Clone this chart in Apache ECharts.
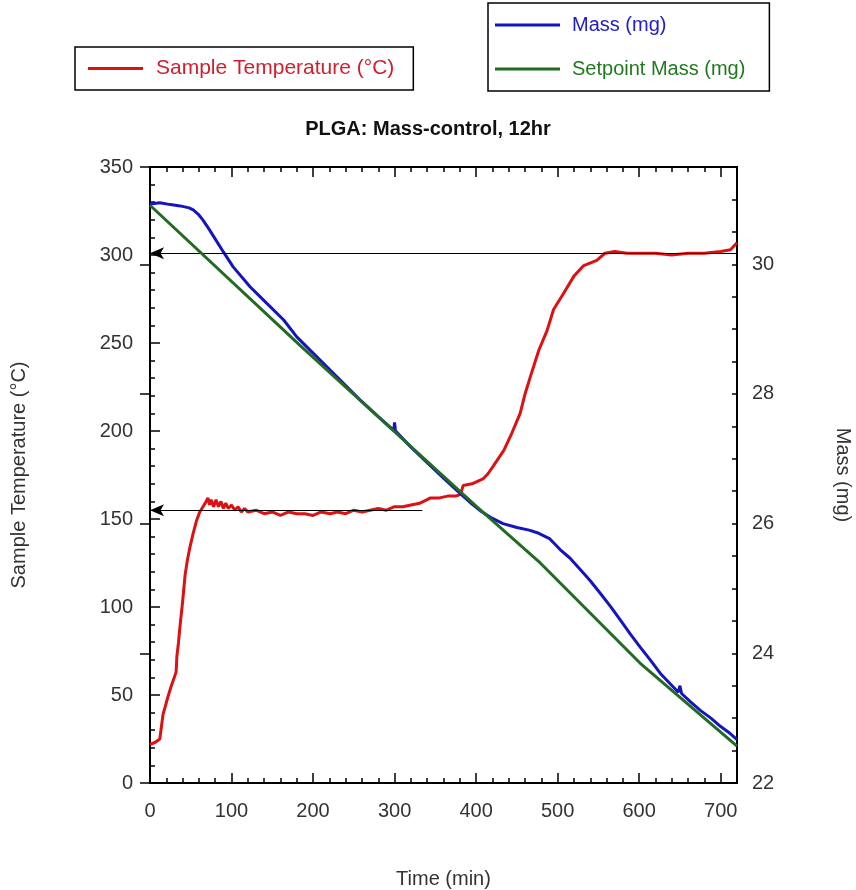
<!DOCTYPE html>
<html>
<head>
<meta charset="utf-8">
<script src="https://cdn.jsdelivr.net/npm/echarts@6/dist/echarts.min.js"></script>
<style>
html,body{margin:0;padding:0;background:#fff;overflow:hidden;}
#chart{width:856px;height:890px;}
</style>
</head>
<body>
<div id="chart"></div>
<script>
// ---- data ----
const titleText = 'PLGA: Mass-control, 12hr';
const xName = 'Time (min)';
const yLeftName = 'Sample Temperature (°C)';
const yRightName = 'Mass (mg)';
const seriesNames = ['Sample Temperature (°C)', 'Mass (mg)', 'Setpoint Mass (mg)'];

// Sample temperature [time (min), °C]
const temperature = [
  [0,22],[6,23],[12,25],[14,26],[16,39],[19,44],[22,49],[26,55],[29,59],[32,63],
  [33,72],[35,80],[37,90],[40,103],[43,118],[46,127],[49,134],[53,142],[57,149],
  [61,154],[65,157],[69,160],[71,162],[73,158],[75,161],[78,157],[81,161],[84,157],
  [87,160],[90,156],[93,159],[96,156],[100,158],[104,155],[108,157],[112,154],
  [116,156],[120,154],[130,155],[140,153],[150,154],[160,152],[170,154],[180,153],
  [190,153],[200,152],[210,154],[221,153],[230,154],[240,153],[250,155],[260,154],
  [270,155],[280,156],[290,155],[300,157],[310,157],[320,158],[331,159],[340,161],
  [344,162],[355,162],[365,163],[375,163],[381,164],[384,169],[395,170],[409,173],
  [415,176],[421,180],[434,189],[444,199],[454,210],[460,221],[468,233],[477,246],
  [487,257],[495,269],[507,278],[520,288],[532,294],[548,297],[558,301],[570,302],
  [585,301],[600,301],[620,301],[640,300],[660,301],[680,301],[700,302],[712,303],
  [716,305],[720,307]
];

// Mass [time (min), mg]
const mass = [
  [0,30.93],[12,30.95],[25,30.92],[37,30.90],[48,30.87],[53,30.84],[60,30.76],
  [65,30.68],[72,30.55],[78,30.43],[90,30.19],[102,29.96],[123,29.65],[143,29.40],
  [164,29.14],[180,28.88],[200,28.63],[220,28.38],[240,28.13],[260,27.88],[280,27.65],
  [299,27.44],[300,27.56],[301,27.43],[320,27.18],[340,26.94],[360,26.70],[380,26.47],
  [395,26.30],[405,26.20],[420,26.08],[433,26.00],[450,25.94],[465,25.90],[475,25.86],
  [490,25.77],[503,25.60],[515,25.47],[528,25.29],[540,25.12],[552,24.93],[565,24.72],
  [577,24.51],[589,24.30],[601,24.10],[614,23.89],[626,23.69],[638,23.53],[648,23.40],
  [650,23.50],[652,23.38],[663,23.25],[675,23.12],[688,23.00],[700,22.87],[710,22.78],
  [720,22.67]
];

// Setpoint mass [time (min), mg]
const setpoint = [
  [0,30.91],[184,28.75],[400,26.27],[479,25.39],[601,23.85],[720,22.57]
];

// annotation arrows (temperature levels)
const arrowLevels = [
  {from:720, to:0, y:301},
  {from:334, to:0, y:155}
];

// axis ranges / ticks
const xMin = 0, xMax = 720, xMajor = 100, xMinor = 20;
const tMin = 0, tMax = 350, tMajor = 50, tMinor = 10;
const mMin = 22, mMax = 31.5, mMajor = 2, mMinor = 0.5;

// ---- chart ----
const FONT = 'Liberation Sans, Arial, sans-serif';
const labelColor = '#333';
const chart = echarts.init(document.getElementById('chart'), null, {renderer:'canvas', width:856, height:890});

function xAxisDef(pos, interval, tickLen, showLabel, extra){
  return Object.assign({
    type:'value', position:pos, min:xMin, max:xMax, interval:interval,
    axisLine:{show:true, onZero:false, lineStyle:{color:'#000', width:2}},
    axisTick:{show:true, inside:true, length:tickLen, lineStyle:{color:'#000', width:1.5}},
    axisLabel:{show:showLabel, fontFamily:FONT, fontSize:20, color:labelColor, margin:18,
      formatter: v => (v % xMajor === 0 ? String(v) : '')},
    splitLine:{show:false}
  }, extra || {});
}

const option = {
  backgroundColor:'#fff',
  animation:false,
  title:{
    text:titleText, left:'center', top:114,
    textStyle:{fontFamily:FONT, fontSize:20, fontWeight:'bold', color:'#111'}
  },
  legend:[
    {
      data:[{name:seriesNames[0], textStyle:{color:'#d02030'}}],
      left:75, top:47, orient:'horizontal',
      borderColor:'#000', borderWidth:1.5, padding:[11,19,11,13],
      icon:'rect', itemWidth:55, itemHeight:3, itemGap:10,
      textStyle:{fontFamily:FONT, fontSize:21, padding:[0,0,0,8]}
    },
    {
      data:[{name:seriesNames[1], textStyle:{color:'#2020c8'}},
            {name:seriesNames[2], textStyle:{color:'#1f7a1f'}}],
      left:488, top:3, orient:'vertical',
      borderColor:'#000', borderWidth:1.5, padding:[12,24,12,7],
      icon:'rect', itemWidth:65, itemHeight:3, itemGap:24,
      textStyle:{fontFamily:FONT, fontSize:20, padding:[0,0,0,7]}
    }
  ],
  grid:{left:150, right:119, top:167, bottom:107, containLabel:false,
        outerBoundsMode:'none',
        show:true, borderColor:'#000', borderWidth:2},
  xAxis:[
    xAxisDef('bottom', xMinor, 5, true, {
      name:xName, nameLocation:'middle', nameGap:86,
      nameTextStyle:{fontFamily:FONT, fontSize:20, color:labelColor}
    }),
    xAxisDef('bottom', xMajor, 10, false),
    xAxisDef('top', xMinor, 5, false),
    xAxisDef('top', xMajor, 10, false)
  ],
  yAxis:[
    {
      type:'value', position:'left', min:tMin, max:tMax, interval:tMajor,
      name:yLeftName, nameLocation:'middle', nameGap:121, nameRotate:90,
      nameTextStyle:{fontFamily:FONT, fontSize:20, color:labelColor},
      axisLine:{show:true, onZero:false, lineStyle:{color:'#000', width:2}},
      axisTick:{show:true, inside:true, length:10, lineStyle:{color:'#000', width:1.5}},
      minorTick:{show:true, splitNumber:tMajor/tMinor, length:5, lineStyle:{color:'#000', width:1.5}},
      axisLabel:{fontFamily:FONT, fontSize:20, color:labelColor, margin:17},
      splitLine:{show:false}, minorSplitLine:{show:false}
    },
    {
      type:'value', position:'right', min:mMin, max:mMax, interval:mMinor,
      name:yRightName, nameLocation:'middle', nameGap:96, nameRotate:-90,
      nameTextStyle:{fontFamily:FONT, fontSize:20, color:labelColor},
      axisLine:{show:true, onZero:false, lineStyle:{color:'#000', width:2}},
      axisTick:{show:true, inside:true, length:5, lineStyle:{color:'#000', width:1.5}},
      axisLabel:{fontFamily:FONT, fontSize:20, color:labelColor, margin:15,
        formatter: v => (Math.abs((v - mMin) % mMajor) < 1e-9 && v < mMax ? String(v) : '')},
      splitLine:{show:false}
    },
    {
      type:'value', position:'right', min:mMin, max:mMax, interval:mMajor,
      axisLine:{show:false}, axisLabel:{show:false},
      axisTick:{show:true, inside:true, length:10, lineStyle:{color:'#000', width:1.5}},
      splitLine:{show:false}
    }
  ],
  series:[
    {
      name:seriesNames[0], type:'line', xAxisIndex:0, yAxisIndex:0,
      data:temperature, showSymbol:false, symbol:'none', z:3,
      lineStyle:{color:'#dd1111', width:3}, itemStyle:{color:'#dd1111'},
      markLine:{
        silent:true, symbol:['none','arrow'], symbolSize:[9,14],
        label:{show:false},
        lineStyle:{color:'#000', width:1.2, type:'solid'},
        data: arrowLevels.map(a => [{coord:[a.from, a.y]}, {coord:[a.to, a.y]}])
      }
    },
    {
      name:seriesNames[1], type:'line', xAxisIndex:0, yAxisIndex:1,
      data:mass, showSymbol:false, symbol:'none', z:4,
      lineStyle:{color:'#1515c0', width:3}, itemStyle:{color:'#1515c0'}
    },
    {
      name:seriesNames[2], type:'line', xAxisIndex:0, yAxisIndex:1,
      data:setpoint, showSymbol:false, symbol:'none', z:5,
      lineStyle:{color:'#236b23', width:3}, itemStyle:{color:'#236b23'}
    }
  ]
};
chart.setOption(option);
</script>
</body>
</html>
